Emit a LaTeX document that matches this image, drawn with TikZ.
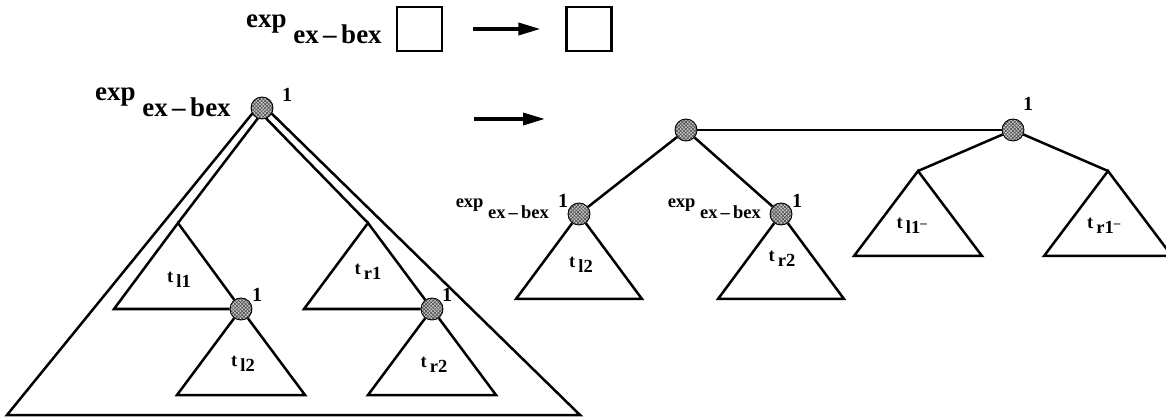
\documentclass[tikz,border=0pt]{standalone}
\usepackage{fontspec}
\setmainfont{Liberation Serif}
\usetikzlibrary{arrows.meta,patterns.meta}
\newcommand{\expbex}{\textbf{exp}~\raisebox{-.6em}{\textbf{ex\,--\,bex}}}
\newcommand{\tlab}[1]{\textbf{t}\,\raisebox{-.3em}{\textbf{#1}}}

\begin{document}
\begin{tikzpicture}[x=1pt,y=-1pt,line width=2.5pt,
        vtx/.style={circle,draw,line width=0.9pt,minimum size=22pt,inner sep=0pt,
            preaction={fill=gray!45},
            preaction={pattern={Lines[angle=45,distance=2.5pt,line width=0.6pt]},pattern color=gray!60!black},
            pattern={Lines[angle=-45,distance=2.5pt,line width=0.6pt]},pattern color=gray!60!black},
        sq/.style={draw,line width=2.2pt,minimum width=45pt,minimum height=44pt,inner sep=0pt},
        big/.style={font=\fontsize{27}{29}\selectfont,inner sep=0pt},
        small/.style={font=\fontsize{18.5}{20}\selectfont,inner sep=0pt},
        tname/.style={font=\fontsize{18.5}{20}\selectfont,inner sep=0pt},
        one/.style={font=\fontsize{20}{22}\selectfont\bfseries,inner sep=0pt},
        tip/.style={-{Triangle[length=22pt,width=12pt]},line width=3.5pt}]
        \useasboundingbox (0,0) rectangle (1166,419);

        \node[big,anchor=east] (lab0) at (383,29) {\expbex};
        \node[sq] (sq1) at (419.5,29) {};
        \node[sq] (sq2) at (589,29) {};
        \draw[tip,shorten <=30pt,shorten >=25pt] (sq1) -- (sq2);

        \node[vtx] (root) at (262,108) {};
        \node[vtx] (nl) at (241,309) {};
        \node[vtx] (nr) at (432,309) {};
        \coordinate (bl) at (7,415);
        \coordinate (br) at (580,415);
        \coordinate (al1) at (178,223);
        \coordinate (ar1) at (368,223);
        \draw (root.210) -- (bl) -- (br) -- (root.330);
        \draw (root.248) -- (al1);
        \draw (root.292) -- (ar1);
        \draw (nl) -- (al1) -- ++(-64,86) -- (nl);
        \draw (nl) -- ++(-64,86) -- ++(128,0) -- (nl);
        \draw (nr) -- (ar1) -- ++(-64,86) -- (nr);
        \draw (nr) -- ++(-64,86) -- ++(128,0) -- (nr);
        \node[big,anchor=east] (lab1) at (232,102) {\expbex};
        \node[one] (one0) at (287,95) {1};
        \node[one] (one1) at (257,295) {1};
        \node[one] (one2) at (447,295) {1};
        \node[tname] (tl1) at (179,280) {\tlab{l1}};
        \node[tname] (tl2) at (243,364) {\tlab{l2}};
        \node[tname] (tr1) at (368,272) {\tlab{r1}};
        \node[tname] (tr2) at (434,365) {\tlab{r2}};

        \coordinate (m1) at (474,119);
        \coordinate (m2) at (545,119);
        \draw[tip] (m1) -- (m2);

        \node[vtx] (n1) at (686,130) {};
        \node[vtx] (n2) at (1013,130) {};
        \node[vtx] (c1) at (579,214) {};
        \node[vtx] (c2) at (781,214) {};
        \coordinate (a3) at (918,171);
        \coordinate (a4) at (1108,171);
        \draw (n1) -- (n2);
        \draw (c1) -- (n1) -- (c2);
        \draw (a3) -- (n2) -- (a4);
        \draw (c1) -- ++(-63,85) -- ++(126,0) -- (c1);
        \draw (c2) -- ++(-63,85) -- ++(126,0) -- (c2);
        \draw (a3) -- ++(-64,85) -- ++(128,0) -- cycle;
        \draw (a4) -- ++(-64,85) -- ++(128,0) -- cycle;
        \node[small,anchor=east] (lab2) at (550,208.5) {\expbex};
        \node[small,anchor=east] (lab3) at (762,208.5) {\expbex};
        \node[one] (one3) at (563,201) {1};
        \node[one] (one4) at (797,201) {1};
        \node[one] (one5) at (1028,104) {1};
        \node[tname] (tl2b) at (581,265) {\tlab{l2}};
        \node[tname] (tr2b) at (782,259) {\tlab{r2}};
        \node[tname] (tl1m) at (912,226) {\tlab{l1\textsuperscript{--}}};
        \node[tname] (tr1m) at (1104,226) {\tlab{r1\textsuperscript{--}}};
\end{tikzpicture}
\end{document}
